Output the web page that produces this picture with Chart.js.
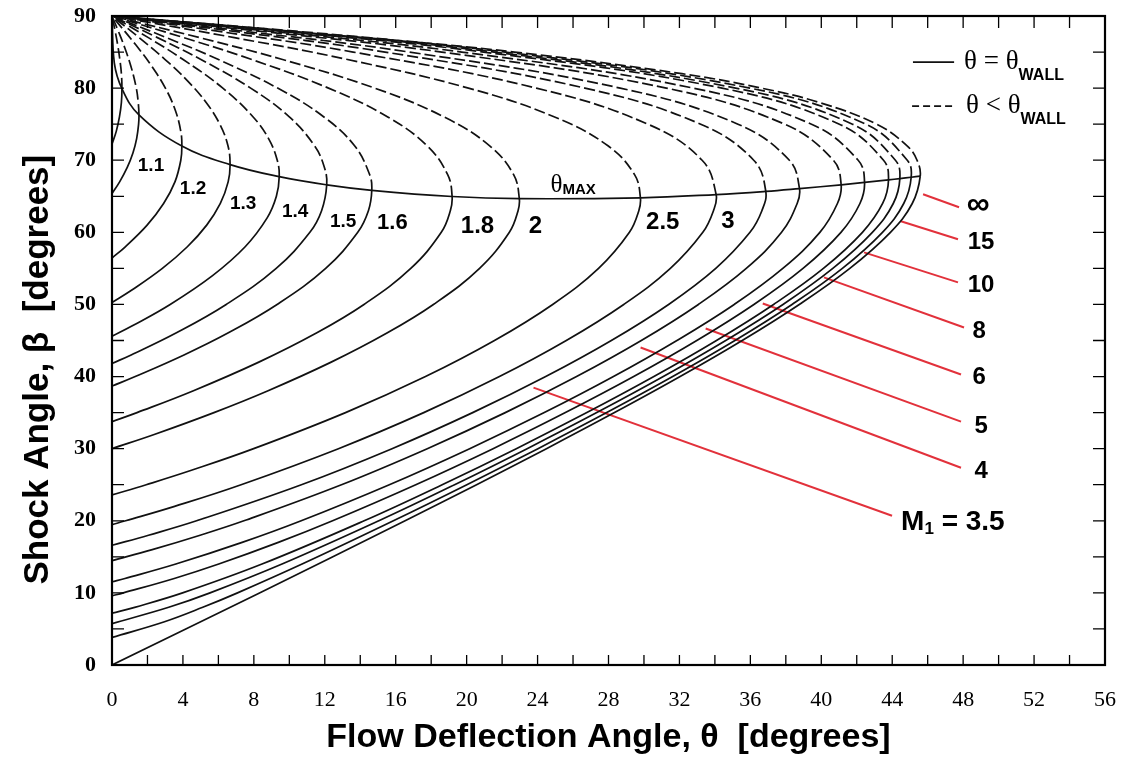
<!DOCTYPE html>
<html>
<head>
<meta charset="utf-8">
<script src="https://cdn.jsdelivr.net/npm/chart.js@4.4.0/dist/chart.umd.min.js"></script>
<style>
  html, body { margin: 0; padding: 0; background: #fff; overflow: hidden; }
  #wrap { width: 1125px; height: 764px; }
</style>
</head>
<body>
<div id="wrap"><canvas id="myChart"></canvas></div>
<script>
// oblique shock chart: [theta, beta] pairs in degrees
// weak branch (solid) runs from the Mach angle up to theta max, strong branch (dashed) from there to 90
const m1_05Weak = [[0,72.25],[0.24,74],[0.42,76],[0.53,78],[0.56,79.93]];
const m1_05Strong = [[0.53,82],[0.44,84],[0.32,86],[0.17,88],[0,90]];
const m1_1Weak = [[0,65.38],[0.43,67],[0.86,69],[1.18,71],[1.39,73],[1.50,75],[1.52,76.29]];
const m1_1Strong = [[1.48,78],[1.37,80],[1.07,83],[0.66,86],[0.34,88],[0,90]];
const m1_2Weak = [[0,56.44],[0.75,58],[1.98,61],[2.91,64],[3.55,67],[3.88,70],[3.94,71.97]];
const m1_2Strong = [[3.88,74],[3.56,77],[3.01,80],[2.25,83],[1.34,86],[0,90]];
const m1_3Weak = [[0,50.28],[1.12,52],[2.84,55],[4.25,58],[5.34,61],[6.11,64],[6.55,67],[6.66,69.39]];
const m1_3Strong = [[6.54,72],[6.08,75],[5.31,78],[4.26,81],[2.98,84],[1.53,87],[0,90]];
const m1_4Weak = [[0,45.58],[1.12,47],[3.28,50],[5.67,54],[7.51,58],[8.75,62],[9.27,65],[9.43,67.72]];
const m1_4Strong = [[9.32,70],[8.83,73],[7.96,76],[6.25,80],[3.99,84],[2.05,87],[0,90]];
const m1_5Weak = [[0,41.81],[1.08,43],[3.58,46],[6.44,50],[9.26,55],[11.16,60],[11.82,63],[12.11,66.59]];
const m1_5Strong = [[11.98,69],[11.42,72],[10.00,76],[7.82,80],[4.99,84],[2.56,87],[0,90]];
const m1_6Weak = [[0,38.68],[1.31,40],[4.06,43],[6.51,46],[9.31,50],[12.05,55],[13.86,60],[14.46,63],[14.65,65.83]];
const m1_6Strong = [[14.53,68],[13.68,72],[11.95,76],[9.34,80],[5.97,84],[3.07,87],[0,90]];
const m1_8Weak = [[0,33.75],[1.41,35],[4.56,38],[8.28,42],[11.50,46],[14.21,50],[16.85,55],[18.57,60],[19.08,63],[19.18,64.97]];
const m1_8Strong = [[18.93,68],[17.77,72],[15.55,76],[12.21,80],[7.84,84],[4.04,87],[0,90]];
const m2Weak = [[0,30],[2.42,32],[5.75,35],[8.77,38],[12.36,42],[15.48,46],[18.13,50],[20.73,55],[22.41,60],[22.90,63],[22.97,64.67]];
const m2Strong = [[22.65,68],[21.30,72],[18.73,76],[14.81,80],[9.57,84],[4.94,87],[0,90]];
const m2_5Weak = [[0,23.58],[1.93,25],[4.48,27],[7.99,30],[13.17,35],[17.68,40],[21.57,45],[24.85,50],[27.44,55],[29.18,60],[29.71,63],[29.80,64.79]];
const m2_5Strong = [[29.47,68],[27.97,72],[24.96,76],[20.10,80],[13.22,84],[6.90,87],[0,90]];
const m3Weak = [[0,19.47],[0.77,20],[3.53,22],[7.28,25],[12.77,30],[17.58,35],[21.85,40],[25.62,45],[28.86,50],[31.49,55],[33.32,60],[33.92,63],[34.07,65.24]];
const m3Strong = [[33.28,70],[30.22,75],[23.93,80],[13.60,85],[5.67,88],[0,90]];
const m3_5Weak = [[0,16.60],[2.06,18],[4.77,20],[10.68,25],[15.79,30],[20.34,35],[24.46,40],[28.16,45],[31.39,50],[34.05,55],[35.98,60],[36.65,63],[36.87,65.68]];
const m3_5Strong = [[36.19,70],[33.20,75],[26.67,80],[15.40,85],[6.46,88],[0,90]];
const m4Weak = [[0,14.48],[2.27,16],[4.97,18],[7.44,20],[12.94,25],[17.78,30],[22.18,35],[26.20,40],[29.85,45],[33.07,50],[35.77,55],[37.76,60],[38.64,64],[38.77,66.07]];
const m4Strong = [[38.20,70],[35.30,75],[28.66,80],[16.76,85],[7.07,88],[0,90]];
const m5Weak = [[0,11.54],[0.73,12],[3.60,14],[7.34,17],[10.67,20],[15.64,25],[20.17,30],[24.38,35],[28.28,40],[31.86,45],[35.09,50],[37.83,55],[39.92,60],[40.91,64],[41.12,66.59]];
const m5Strong = [[40.68,70],[37.93,75],[31.26,80],[18.60,85],[7.90,88],[0,90]];
const m6Weak = [[0,9.59],[0.64,10],[3.51,12],[6.02,14],[9.38,17],[12.44,20],[17.13,25],[21.49,30],[25.57,35],[29.42,40],[32.98,45],[36.20,50],[38.97,55],[41.11,60],[42.18,64],[42.44,66.92]];
const m6Strong = [[42.08,70],[39.45,75],[32.78,80],[19.72,85],[8.42,88],[0,90]];
const m8Weak = [[0,7.18],[1.28,8],[3.98,10],[8.46,14],[14.22,20],[18.62,25],[22.80,30],[26.78,35],[30.56,40],[34.09,45],[37.31,50],[40.12,55],[42.32,60],[43.46,64],[43.79,67.27]];
const m8Strong = [[43.51,70],[41.02,75],[34.40,80],[20.95,85],[9.00,88],[0,90]];
const m10Weak = [[0,5.74],[3.20,8],[5.53,10],[9.59,14],[15.05,20],[19.32,25],[23.41,30],[27.34,35],[31.09,40],[34.61,45],[37.84,50],[40.65,55],[42.88,60],[44.06,64],[44.43,67.45]];
const m10Strong = [[44.18,70],[41.76,75],[35.17,80],[21.55,85],[9.28,88],[0,90]];
const m15Weak = [[0,3.82],[2.96,6],[5.12,8],[7.08,10],[10.72,14],[15.87,20],[20.01,25],[24.02,30],[27.90,35],[31.62,40],[35.13,45],[38.35,50],[41.19,55],[43.45,60],[44.65,64],[45.07,67.64]];
const m15Strong = [[44.85,70],[42.51,75],[35.97,80],[22.18,85],[9.58,88],[0,90]];
const mInfWeak = [[0,0],[8.32,10],[16.53,20],[20.56,25],[24.50,30],[28.34,35],[32.04,40],[35.54,45],[38.76,50],[41.61,55],[43.90,60],[45.13,64],[45.58,67.79]];
const mInfStrong = [[45.40,70],[44.84,72],[43.12,75],[39.90,78],[36.61,80],[32.14,82],[22.70,85],[14.46,87],[9.83,88],[4.98,89],[0,90]];

// locus of the maximum deflection points
const thetaMaxLine = [[0,90],[0.13,83.5],[0.56,79.93],[1.52,76.29],[3.94,71.97],[6.66,69.39],[9.43,67.72],[12.11,66.59],[14.65,65.83],[19.18,64.97],[22.97,64.67],[29.80,64.79],[34.07,65.24],[36.87,65.68],[38.77,66.07],[41.12,66.59],[42.44,66.92],[43.79,67.27],[44.43,67.45],[45.07,67.64],[45.58,67.79]];

// curve labels (theta, beta of the label centre)
const curveNames = ["1.1","1.2","1.3","1.4","1.5","1.6","1.8","2","2.5","3"];
const curveNameTheta = [2.20,4.57,7.40,10.33,13.04,15.81,20.61,23.88,31.06,34.73];
const curveNameBeta = [69.3,66.0,63.9,62.9,61.5,61.25,60.8,60.8,61.4,61.5];

// red leader lines for the high Mach numbers
const leaderNames = ["\u221E","15","10","8","6","5","4"];
const leaderStart = [[45.74,65.28],[44.49,61.53],[42.41,57.22],[40.15,53.75],[36.70,50.14],[33.48,46.67],[29.81,44.03],[23.77,38.47]];
const leaderEnd = [[47.77,63.47],[47.71,59.03],[47.71,53.06],[48.05,46.81],[47.88,40.28],[47.88,33.75],[47.88,27.36],[43.99,20.69]];
const leaderNameTheta = [48.84,49.01,49.01,48.90,48.90,49.01,49.01];
const leaderNameBeta = [63.8,58.6,52.6,46.2,39.9,33.1,26.8];

const machCurves = [
  [m1_05Weak, m1_05Strong], [m1_1Weak, m1_1Strong], [m1_2Weak, m1_2Strong], [m1_3Weak, m1_3Strong],
  [m1_4Weak, m1_4Strong], [m1_5Weak, m1_5Strong], [m1_6Weak, m1_6Strong], [m1_8Weak, m1_8Strong],
  [m2Weak, m2Strong], [m2_5Weak, m2_5Strong], [m3Weak, m3Strong], [m3_5Weak, m3_5Strong],
  [m4Weak, m4Strong], [m5Weak, m5Strong], [m6Weak, m6Strong], [m8Weak, m8Strong],
  [m10Weak, m10Strong], [m15Weak, m15Strong], [mInfWeak, mInfStrong]
];

function toXY(list) {
  return list.map(p => ({x: p[0], y: p[1]}));
}

var datasets = [];
machCurves.forEach(c => {
  const split = c[0].length - 1;
  datasets.push({
    data: toXY(c[0].concat(c[1])),
    showLine: true,
    borderColor: "#111",
    borderWidth: 1.7,
    pointRadius: 0,
    tension: 0.4,
    segment: {
      borderDash: ctx => ctx.p0DataIndex >= split ? [11, 4] : []
    }
  });
});

datasets.push({
  data: toXY(thetaMaxLine),
  showLine: true,
  borderColor: "#111",
  borderWidth: 1.7,
  pointRadius: 0,
  tension: 0.4
});

leaderStart.forEach((s, i) => {
  datasets.push({
    data: toXY([s, leaderEnd[i]]),
    showLine: true,
    borderColor: "#e2313b",
    borderWidth: 2,
    pointRadius: 0
  });
});

// legend sample lines
datasets.push({
  data: toXY([[45.17,83.6],[47.49,83.6]]),
  showLine: true, borderColor: "#111", borderWidth: 1.7, pointRadius: 0
});
datasets.push({
  data: toXY([[45.12,77.5],[47.60,77.5]]),
  showLine: true, borderColor: "#111", borderWidth: 1.7, pointRadius: 0, borderDash: [7, 4]
});

function drawParts(ctx, x, y, parts, align) {
  let w = 0;
  parts.forEach(p => { ctx.font = p[1]; w += ctx.measureText(p[0]).width; });
  let cx = align === "center" ? x - w / 2 : x;
  parts.forEach(p => {
    ctx.font = p[1];
    ctx.fillText(p[0], cx, y + (p[2] || 0));
    cx += ctx.measureText(p[0]).width;
  });
}

const SANS = '"Liberation Sans", Arial, sans-serif';
const SERIF = '"Liberation Serif", "Times New Roman", serif';

const framePlugin = {
  id: "frame",
  afterDatasetsDraw(chart) {
    const ctx = chart.ctx;
    const a = chart.chartArea;
    const x = chart.scales.x;
    const y = chart.scales.y;
    ctx.save();
    ctx.strokeStyle = "#000";
    ctx.lineWidth = 2.2;
    ctx.strokeRect(a.left, a.top, a.right - a.left, a.bottom - a.top);

    // inward tick marks on all four sides
    ctx.lineWidth = 1.3;
    ctx.beginPath();
    x.ticks.forEach(t => {
      if (t.value <= x.min || t.value >= x.max) return;
      const px = x.getPixelForValue(t.value);
      ctx.moveTo(px, a.bottom); ctx.lineTo(px, a.bottom - 10);
      ctx.moveTo(px, a.top); ctx.lineTo(px, a.top + 12);
    });
    y.ticks.forEach(t => {
      if (t.value <= y.min || t.value >= y.max) return;
      const py = y.getPixelForValue(t.value);
      ctx.moveTo(a.left, py); ctx.lineTo(a.left + 12, py);
      ctx.moveTo(a.right, py); ctx.lineTo(a.right - 12, py);
    });
    ctx.stroke();

    ctx.fillStyle = "#000";
    ctx.textBaseline = "middle";
    ctx.textAlign = "left";

    curveNames.forEach((n, i) => {
      const size = i < 5 ? 19 : (i === 5 ? 22 : 24);
      drawParts(ctx, x.getPixelForValue(curveNameTheta[i]), y.getPixelForValue(curveNameBeta[i]),
        [[n, "bold " + size + "px " + SANS]], "center");
    });

    leaderNames.forEach((n, i) => {
      const f = i === 0 ? "bold 32px " + SANS : "bold 24px " + SANS;
      drawParts(ctx, x.getPixelForValue(leaderNameTheta[i]), y.getPixelForValue(leaderNameBeta[i]),
        [[n, f]], "center");
    });
    drawParts(ctx, x.getPixelForValue(44.5), y.getPixelForValue(19.86),
      [["M", "bold 28px " + SANS], ["1", "bold 17px " + SANS, 8], [" = 3.5", "bold 28px " + SANS]], "left");

    drawParts(ctx, x.getPixelForValue(24.73), y.getPixelForValue(66.53),
      [["\u03B8", "25px " + SERIF], ["MAX", "bold 15px " + SANS, 5]], "left");

    drawParts(ctx, x.getPixelForValue(48.05), y.getPixelForValue(83.6),
      [["\u03B8 = \u03B8", "27px " + SERIF], ["WALL", "bold 16px " + SANS, 13]], "left");
    drawParts(ctx, x.getPixelForValue(48.16), y.getPixelForValue(77.5),
      [["\u03B8 < \u03B8", "27px " + SERIF], ["WALL", "bold 16px " + SANS, 13]], "left");
    ctx.restore();
  }
};

new Chart("myChart", {
  type: "scatter",
  data: { datasets: datasets },
  options: {
    responsive: true,
    maintainAspectRatio: false,
    animation: false,
    events: [],
    layout: { padding: { top: 16, right: 20, left: 0, bottom: 0 } },
    plugins: {
      legend: { display: false },
      tooltip: { enabled: false }
    },
    scales: {
      x: {
        type: "linear",
        min: 0,
        max: 56,
        // fixed band for the axis; end labels may overhang into the page padding
        afterFit: s => { s.height = 99; s.paddingLeft = 0; s.paddingRight = 0; },
        grid: { display: false },
        border: { display: false },
        ticks: {
          stepSize: 2,
          autoSkip: false,
          maxRotation: 0,
          padding: 14,
          color: "#000",
          font: { family: SERIF, size: 22 },
          callback: v => v % 4 === 0 ? v : ""
        },
        title: {
          display: true,
          text: "Flow Deflection Angle, \u03B8  [degrees]",
          color: "#000",
          font: { family: SANS, size: 34, weight: "bold" },
          padding: { top: 0, bottom: 6 }
        }
      },
      y: {
        type: "linear",
        min: 0,
        max: 90,
        afterFit: s => { s.width = 112; s.paddingTop = 0; s.paddingBottom = 0; },
        grid: { display: false },
        border: { display: false },
        ticks: {
          stepSize: 5,
          autoSkip: false,
          padding: 8,
          color: "#000",
          font: { family: SERIF, size: 22, weight: "bold" },
          callback: v => v % 10 === 0 ? v : ""
        },
        title: {
          display: true,
          // trailing spaces push the centred text a little down, as in the figure
          text: "Shock Angle, \u03B2  [degrees]      ",
          color: "#000",
          font: { family: SANS, size: 35, weight: "bold" },
          padding: { top: 17, bottom: 0 }
        }
      }
    }
  },
  plugins: [framePlugin]
});
</script>
</body>
</html>
